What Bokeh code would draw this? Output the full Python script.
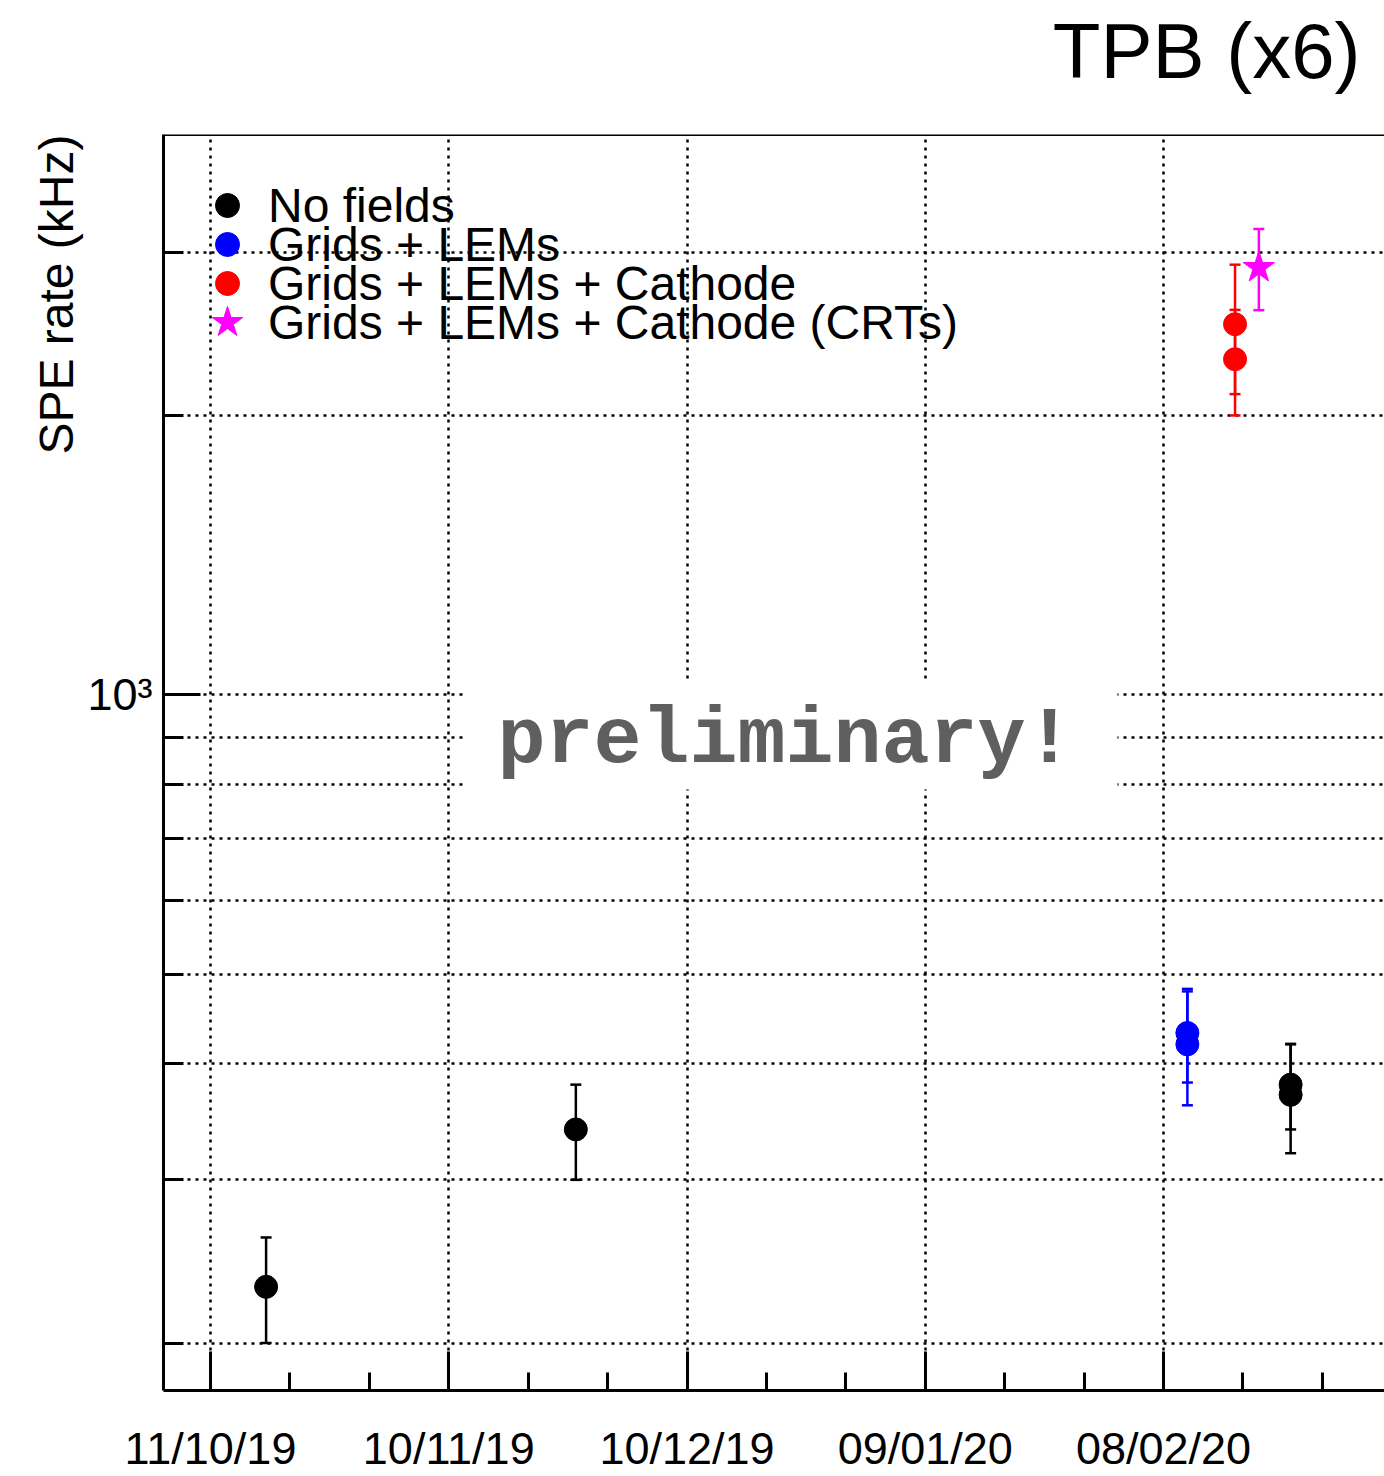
import pandas as pd
from bokeh.plotting import figure
from bokeh.models import (ColumnDataSource, Whisker, TeeHead, FixedTicker,
                          DatetimeTickFormatter, Label, BoxAnnotation, Span,
                          Legend, LegendItem, Range1d, Title)
from bokeh.embed import file_html
from bokeh.resources import INLINE

# SPE rate (kHz) per field configuration, with symmetric errors
no_field_dates = ["2019-10-18", "2019-11-26", "2020-02-24", "2020-02-24"]
no_field_rate = [230, 340, 380, 370.5]
no_field_err = [30, 40, 40, 50]

lem_dates = ["2020-02-11", "2020-02-11"]
lem_rate = [432, 420]
lem_err = [50, 59]

cathode_dates = ["2020-02-17", "2020-02-17"]
cathode_rate = [2511, 2302]
cathode_err = [400, 300]

crt_dates = ["2020-02-20"]
crt_rate = [2890]
crt_err = [290]

# axis ticks
date_ticks = ["2019-10-11", "2019-11-10", "2019-12-10", "2020-01-09", "2020-02-08"]
date_minor_ticks = ["2019-10-21", "2019-10-31", "2019-11-20", "2019-11-30",
                    "2019-12-20", "2019-12-30", "2020-01-19", "2020-01-29",
                    "2020-02-18", "2020-02-28"]
rate_ticks = [1000]
rate_minor_ticks = [200, 300, 400, 500, 600, 700, 800, 900, 2000, 3000]

FONT = "Liberation Sans"


def ms(d):
    return pd.Timestamp(d).value / 1e6


def make_source(dates, rate, err):
    return ColumnDataSource(dict(
        x=pd.to_datetime(dates),
        y=rate,
        lo=[r - e for r, e in zip(rate, err)],
        hi=[r + e for r, e in zip(rate, err)],
    ))


x_start = pd.Timestamp("2019-10-11") - pd.Timedelta(days=5.918)
x_end = pd.Timestamp("2019-10-11") + pd.Timedelta(days=147.82)

p = figure(width=1384, height=1476, x_axis_type="datetime", y_axis_type="log",
           x_range=Range1d(x_start, x_end), y_range=Range1d(177.8, 4022),
           output_backend="svg", toolbar_location=None,
           min_border_left=163, min_border_right=0,
           min_border_top=134, min_border_bottom=85)
p.outline_line_color = None
p.background_fill_color = "white"
p.border_fill_color = "white"

# page title, top right (the plot title sits outermost in the top border)
p.title.text = "TPB (x6)"
p.title.align = "right"
p.title.offset = 24
p.title.standoff = 2
p.title.text_font = FONT
p.title.text_font_size = "78px"
p.title.text_font_style = "normal"
p.title.text_color = "black"

# thin spacer between the title and the frame
p.add_layout(Title(text=" ", text_font_size="1px", standoff=36), "above")

# x axis: dates, 30-day major / 10-day minor ticks
xa = p.xaxis[0]
xa.ticker = FixedTicker(ticks=[ms(d) for d in date_ticks],
                        minor_ticks=[ms(d) for d in date_minor_ticks])
fmt = "%d/%m/%y"
xa.formatter = DatetimeTickFormatter(microseconds=fmt, milliseconds=fmt, seconds=fmt,
                                     minsec=fmt, minutes=fmt, hourmin=fmt, hours=fmt,
                                     days=fmt, months=fmt, years=fmt)
xa.major_tick_in = 39
xa.major_tick_out = 0
xa.minor_tick_in = 18
xa.minor_tick_out = 0
xa.major_label_standoff = 32
xa.major_label_text_font = FONT
xa.major_label_text_font_size = "45px"
xa.major_label_text_color = "black"

# y axis: log scale
ya = p.yaxis[0]
ya.ticker = FixedTicker(ticks=rate_ticks, minor_ticks=rate_minor_ticks)
ya.major_label_overrides = {1000: "10³"}
ya.major_tick_in = 37
ya.major_tick_out = 0
ya.minor_tick_in = 20
ya.minor_tick_out = 0
ya.major_label_standoff = 11
ya.major_label_text_font = FONT
ya.major_label_text_font_size = "45px"
ya.major_label_text_color = "black"

for ax in (xa, ya):
    ax.axis_line_color = "black"
    ax.axis_line_width = 3
    ax.major_tick_line_color = "black"
    ax.major_tick_line_width = 3
    ax.minor_tick_line_color = "black"
    ax.minor_tick_line_width = 3

# y axis title, placed toward the top end of the axis
p.add_layout(Title(text="SPE rate (kHz)", align="right", offset=0, standoff=4,
                   text_font=FONT, text_font_size="48px", text_font_style="normal",
                   text_color="black"), "left")

# dotted grid
p.xgrid.grid_line_color = "black"
p.xgrid.grid_line_width = 2.5
p.xgrid.grid_line_dash = "3 5"
p.ygrid.grid_line_color = "black"
p.ygrid.grid_line_width = 2.5
p.ygrid.grid_line_dash = "3 5"
p.ygrid.minor_grid_line_color = "black"
p.ygrid.minor_grid_line_width = 2.5
p.ygrid.minor_grid_line_dash = "3 5"

# frame top edge
p.add_layout(Span(location=4022, dimension="width", line_color="black", line_width=3))

series = [
    ("No fields", no_field_dates, no_field_rate, no_field_err, "black", "circle", 23),
    ("Grids + LEMs", lem_dates, lem_rate, lem_err, "blue", "circle", 23),
    ("Grids + LEMs + Cathode", cathode_dates, cathode_rate, cathode_err, "red", "circle", 23),
    ("Grids + LEMs + Cathode (CRTs)", crt_dates, crt_rate, crt_err, "magenta", "star", 33),
]

# one single-entry legend per series so the rows can sit tightly together
row_centers = [206, 245, 284, 323]
frame_bottom = 1391
for (label, dates, rate, err, color, marker, size), yc in zip(series, row_centers):
    src = make_source(dates, rate, err)
    w = Whisker(source=src, base="x", lower="lo", upper="hi", dimension="height",
                line_color=color, line_width=2.5, level="underlay",
                upper_head=TeeHead(size=11, line_color=color, line_width=2.5),
                lower_head=TeeHead(size=11, line_color=color, line_width=2.5))
    p.add_layout(w)
    r = p.scatter("x", "y", source=src, marker=marker, size=size,
                  fill_color=color, line_color=color, line_width=1)
    box = 80 if marker == "star" else 60
    legend = Legend(items=[LegendItem(label=label, renderers=[r])],
                    location=(64 - box // 2, frame_bottom - (yc + box // 2)),
                    margin=0, padding=0, spacing=0,
                    glyph_width=box, glyph_height=box, label_standoff=41 - box // 2,
                    label_text_font=FONT, label_text_font_size="48px",
                    label_text_color="black", border_line_color=None,
                    background_fill_alpha=0)
    p.add_layout(legend)

# "preliminary!" stamp on a white patch
p.add_layout(BoxAnnotation(left=300, right=954, bottom=601, top=709,
                           left_units="screen", right_units="screen",
                           bottom_units="screen", top_units="screen",
                           fill_color="white", fill_alpha=1.0, line_color=None))
p.add_layout(Label(x=622, y=650, x_units="screen", y_units="screen",
                   text="preliminary!", text_align="center", text_baseline="alphabetic",
                   text_font="Liberation Mono", text_font_style="bold",
                   text_font_size="80px", text_color="#5f5f5f"))

open("out.html", "w").write(file_html(p, INLINE))
